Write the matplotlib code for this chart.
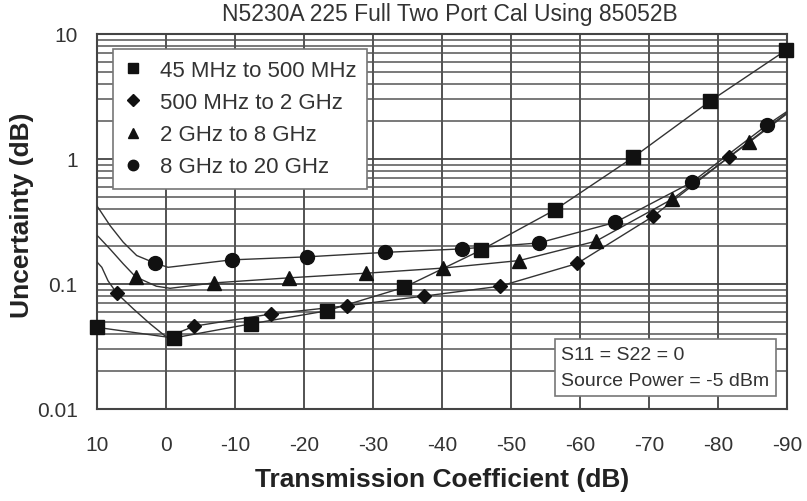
import matplotlib
matplotlib.use("Agg")
import matplotlib.pyplot as plt
from matplotlib.ticker import FixedLocator, NullFormatter

plt.rcParams['font.family'] = ['Liberation Sans', 'DejaVu Sans']

# marker positions (transmission dB, uncertainty dB)
sq_x = [10, -1.1, -12.3, -23.3, -34.5, -45.6, -56.4, -67.7, -78.8, -89.9]
sq_y = [0.045, 0.037, 0.048, 0.061, 0.094, 0.186, 0.393, 1.03, 2.89, 7.45]

dm_x = [7.1, -4.1, -15.2, -26.2, -37.4, -48.4, -59.6, -70.6, -81.6]
dm_y = [0.084, 0.046, 0.0575, 0.067, 0.080, 0.096, 0.146, 0.348, 1.04]

tr_x = [4.4, -6.9, -17.8, -29.0, -40.1, -51.2, -62.3, -73.4, -84.5]
tr_y = [0.114, 0.102, 0.112, 0.122, 0.134, 0.154, 0.220, 0.479, 1.36]

ci_x = [1.6, -9.5, -20.5, -31.7, -42.9, -54.0, -65.1, -76.2, -87.1]
ci_y = [0.147, 0.156, 0.165, 0.179, 0.191, 0.213, 0.311, 0.651, 1.87]

# extra points traced along the curves near the left edge
dm_start_x = [10, 9.3, 8.4, 7.1, 4.7, 2.3, -0.1]
dm_start_y = [0.15, 0.136, 0.106, 0.084, 0.063, 0.048, 0.0375]
tr_start_x = [10, 9.7, 8.1, 6.2, 4.4, 1.4, -0.6]
tr_start_y = [0.245, 0.236, 0.19, 0.145, 0.114, 0.096, 0.0924]
ci_start_x = [10, 9.7, 8.1, 6.2, 4.25, 1.6, -0.3]
ci_start_y = [0.42, 0.398, 0.293, 0.216, 0.169, 0.147, 0.136]
# where the three upper curves leave the right edge
end_x = -90
dm_end_y = 2.35
tr_end_y = 2.3
ci_end_y = 2.4

labels = ["45 MHz to 500 MHz", "500 MHz to 2 GHz", "2 GHz to 8 GHz", "8 GHz to 20 GHz"]
x_ticks = [10, 0, -10, -20, -30, -40, -50, -60, -70, -80, -90]
y_ticks = [0.01, 0.1, 1, 10]
y_ticklabels = ["0.01", "0.1", "1", "10"]

fig = plt.figure(figsize=(8.07, 5.02), dpi=100)
ax = fig.add_axes([97 / 807, 92 / 502, 690 / 807, 375 / 502])

line_kw = dict(color='#333333', lw=1.0, zorder=3)
ax.plot(sq_x, sq_y, **line_kw)
ax.plot(dm_start_x + dm_x[1:] + [end_x], dm_start_y + dm_y[1:] + [dm_end_y], **line_kw)
ax.plot(tr_start_x + tr_x[1:] + [end_x], tr_start_y + tr_y[1:] + [tr_end_y], **line_kw)
ax.plot(ci_start_x + ci_x[1:] + [end_x], ci_start_y + ci_y[1:] + [ci_end_y], **line_kw)

mk_kw = dict(ls='none', color='#111111', zorder=5, clip_on=False)
ax.plot(sq_x, sq_y, marker='s', ms=9.5, label=labels[0], **mk_kw)
ax.plot(dm_x, dm_y, marker='D', ms=7.5, label=labels[1], **mk_kw)
ax.plot(tr_x, tr_y, marker='^', ms=9.5, label=labels[2], **mk_kw)
ax.plot(ci_x, ci_y, marker='o', ms=10, label=labels[3], **mk_kw)

ax.set_yscale('log')
ax.set_xlim(10, -90)
ax.set_ylim(0.01, 10)
ax.xaxis.set_major_locator(FixedLocator(x_ticks))
ax.set_xticklabels([str(v) for v in x_ticks])
ax.yaxis.set_major_locator(FixedLocator(y_ticks))
ax.set_yticklabels(y_ticklabels)
minor = [m * d for d in [0.01, 0.1, 1] for m in range(2, 10)]
ax.yaxis.set_minor_locator(FixedLocator(minor))
ax.yaxis.set_minor_formatter(NullFormatter())

ax.grid(True, which='major', color='#444444', lw=1.3, zorder=1)
ax.grid(True, which='minor', axis='y', color='#555555', lw=1.1, zorder=1)
ax.tick_params(which='both', length=0, labelsize=15, labelcolor='#333333')
ax.tick_params(axis='x', pad=19)
ax.tick_params(axis='y', pad=14)
for s in ax.spines.values():
    s.set_color('#444444')
    s.set_linewidth(1.5)

ax.set_xlabel("Transmission Coefficient (dB)", fontsize=19, fontweight='bold',
              color='#222222', labelpad=9)
ax.set_ylabel("Uncertainty (dB)", fontsize=19, fontweight='bold',
              color='#222222', va='center')
ax.yaxis.set_label_coords(-0.109, 0.52)

fig.text(0.557, 0.972, "N5230A 225 Full Two Port Cal Using 85052B",
         ha='center', va='center', fontsize=16.5, color='#333333')

leg = ax.legend(loc='upper left', bbox_to_anchor=(0.023, 0.96), borderaxespad=0,
                fontsize=16, markerscale=0.75, handlelength=0.8, handletextpad=0.8,
                labelspacing=0.5, borderpad=0.5, fancybox=False, framealpha=1)
leg.get_frame().set_edgecolor('#777777')
leg.get_frame().set_linewidth(1.2)
for t in leg.get_texts():
    t.set_color('#333333')

ax.text(0.673, 0.052, "S11 = S22 = 0\nSource Power = -5 dBm", transform=ax.transAxes,
        ha='left', va='bottom', fontsize=14, color='#333333', linespacing=1.75, zorder=6,
        bbox=dict(boxstyle='square,pad=0.35', fc='white', ec='#777777', lw=1.2))

fig.savefig("out.png", dpi=100)
